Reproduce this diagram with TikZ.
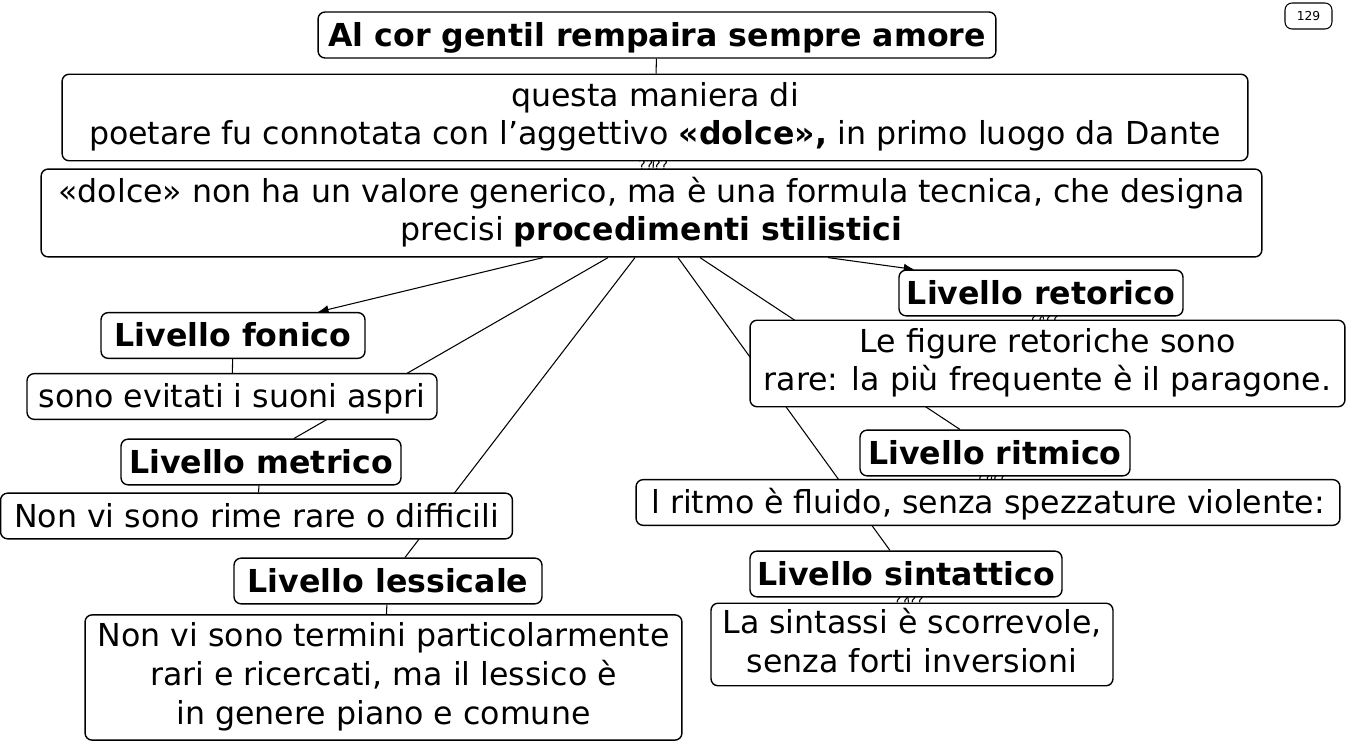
\documentclass[tikz,border=0pt]{standalone}
\usepackage{fontspec}
\setmainfont{DejaVu Sans}
\usetikzlibrary{arrows.meta,calc,backgrounds}

\newcommand\BoxStrut{\rule[-4.6pt]{0pt}{22pt}}

\tikzset{
  ConceptBox/.style={draw,fill=white,rounded corners=4pt,line width=0.8pt,
    align=center,inner xsep=4pt,inner ysep=2pt,
    font=\fontsize{18}{22}\selectfont,
    execute at begin node=\BoxStrut,execute at end node=\BoxStrut},
  TallBox/.style={ConceptBox,inner ysep=4.5pt},
  KeyBox/.style={ConceptBox,font=\fontsize{18}{22}\selectfont\bfseries},
  LinkLbl/.style={inner sep=0pt,font=\fontsize{8}{9}\selectfont},
  LinkLine/.style={line width=0.6pt},
  LinkArrow/.style={LinkLine,-{Latex[length=6pt,width=5pt]}}
}

\begin{document}
\begin{tikzpicture}[x=0.02cm,y=-0.02cm]
\useasboundingbox (0,0) rectangle (1347,742);

\node[KeyBox,minimum width=13.56cm,minimum height=0.92cm] (amore) at (657,35) {Al cor gentil rempaira sempre amore};
\node[TallBox,minimum width=23.72cm] (maniera) at (655,117.5) {questa maniera di\\poetare fu connotata con l’aggettivo \textbf{«dolce»,} in primo luogo da Dante};
\node[TallBox,minimum width=24.42cm] (dolce) at (651.5,213) {«dolce» non ha un valore generico, ma è una formula tecnica, che designa\\precisi \textbf{procedimenti stilistici}};

\node[KeyBox,minimum width=5.68cm] (retorico) at (1041,293) {Livello retorico};
\node[TallBox,minimum width=11.9cm] (figure) at (1047.5,363.5) {Le figure retoriche sono\\rare: la più frequente è il paragone.};

\node[KeyBox,minimum width=5.28cm] (fonico) at (233,335.5) {Livello fonico};
\node[ConceptBox,minimum width=8.2cm] (aspri) at (232,396.5) {sono evitati i suoni aspri};

\node[KeyBox,minimum width=5.6cm] (metrico) at (261,462) {Livello metrico};
\node[ConceptBox,minimum width=10.24cm] (rime) at (256.5,516) {Non vi sono rime rare o difficili};

\node[KeyBox,minimum width=6.16cm] (lessicale) at (388,581) {Livello lessicale};
\node[TallBox,minimum width=11.94cm] (termini) at (383.5,677.5) {Non vi sono termini particolarmente\\rari e ricercati, ma il lessico è\\in genere piano e comune};

\node[KeyBox,minimum width=5.4cm] (ritmico) at (995,453) {Livello ritmico};
\node[ConceptBox,minimum width=14.08cm] (ritmo) at (988,502.5) {l ritmo è fluido, senza spezzature violente:};

\node[KeyBox,minimum width=6.24cm] (sintattico) at (906,574) {Livello sintattico};
\node[TallBox,minimum width=8.04cm,inner ysep=3pt] (sintassi) at (912,644.5) {La sintassi è scorrevole,\\senza forti inversioni};

\node[draw,rounded corners=4pt,line width=0.6pt,minimum width=0.94cm,minimum height=0.52cm,
  inner sep=0pt,font=\fontsize{7}{8}\selectfont] (pagina) at (1308.5,16) {129};

\begin{pgfonlayer}{background}
% links from the main concept
\draw[LinkLine] (amore) -- (maniera);
\draw[LinkLine] (maniera) -- (dolce);
\draw[LinkArrow] ($(dolce.south)+(-108.5,0)$) -- ($(fonico.north)+(85,0)$);
\draw[LinkArrow] ($(dolce.south)+(176.5,0)$) -- ($(retorico.north west)+(16,0)$);
\draw[LinkLine] ($(dolce.south)+(-43.5,0)$) -- ($(metrico.north)+(33,0)$);
\draw[LinkLine] ($(dolce.south)+(-16.5,0)$) -- ($(lessicale.north)+(17,0)$);
\draw[LinkLine] ($(dolce.south)+(26.5,0)$) -- ($(sintattico.north)+(-16,0)$);
\draw[LinkLine] ($(dolce.south)+(48.5,0)$) -- ($(ritmico.north)+(-35,0)$);

% levels and their notes
\draw[LinkLine] (fonico) -- (aspri);
\draw[LinkLine] (metrico) -- (rime);
\draw[LinkLine] (lessicale) -- (termini);
\draw[LinkLine] (retorico) -- (figure);
\draw[LinkLine] (ritmico) -- (ritmo);
\draw[LinkLine] (sintattico) -- (sintassi);

\node[LinkLbl] (lblManiera) at ($(maniera.south)!0.5!(dolce.north)$) {????};
\node[LinkLbl] (lblRetorico) at ($(retorico.south)!0.5!(figure.north)$) {????};
\node[LinkLbl] (lblRitmico) at ($(ritmico.south)!0.5!(ritmo.north)$) {????};
\node[LinkLbl] (lblSintattico) at ($(sintattico.south)!0.5!(sintassi.north)$) {????};
\end{pgfonlayer}

\end{tikzpicture}
\end{document}
